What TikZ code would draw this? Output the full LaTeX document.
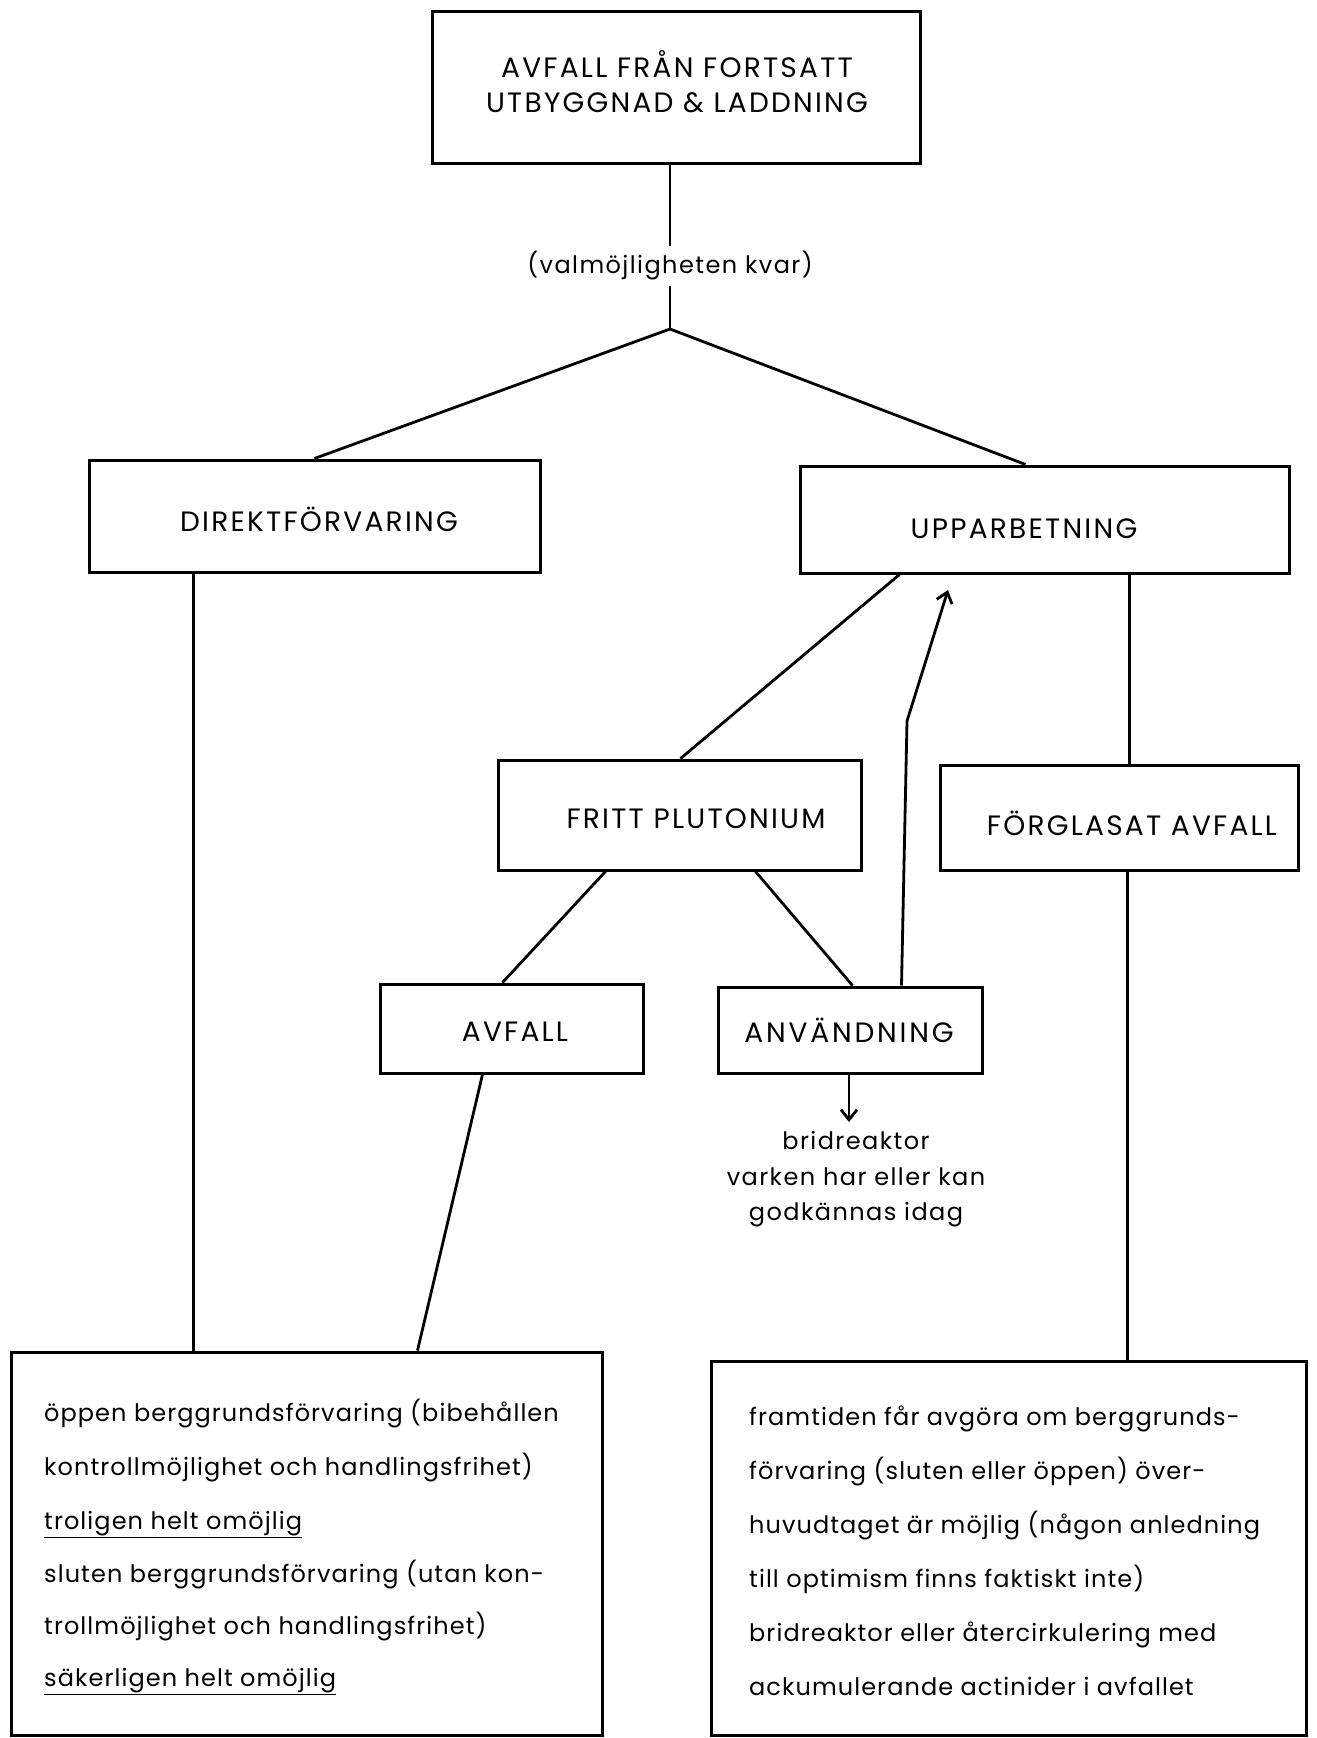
\documentclass[tikz,border=0pt]{standalone}
\usepackage{fontspec}
\setmainfont{Poppins}
\newfontfamily\capsf[LetterSpace=8]{Poppins}
\newfontfamily\lowf[LetterSpace=4.5]{Poppins}
\newfontfamily\smallf[LetterSpace=6]{Poppins}
\newfontfamily\anvf[LetterSpace=10]{Poppins}
\usetikzlibrary{arrows.meta,calc}
\begin{document}
\begin{tikzpicture}[x=1pt,y=-1pt,
  box/.style={draw, line width=3pt, inner sep=0pt},
  conn/.style={line width=2.8pt},
  tip/.style={-{Straight Barb[length=10pt,width=16pt,line width=2.8pt]}},
  lbl/.style={font=\capsf\fontsize{28}{32}\selectfont, inner sep=0pt},
  small/.style={font=\smallf\fontsize{24}{28}\selectfont, inner sep=0pt},
  body/.style={font=\lowf\fontsize{24}{28}\selectfont, inner sep=0pt, anchor=base west}]
\useasboundingbox (0,0) rectangle (1317,1738);
\fill[white] (0,0) rectangle (1317,1738);

% boxes
\node[box, minimum width=488pt, minimum height=152pt] (top)    at (676,87) {};
\node[box, minimum width=451pt, minimum height=112pt] (direkt) at (314.5,516) {};
\node[box, minimum width=489pt, minimum height=107pt] (upp)    at (1044.5,519.5) {};
\node[box, minimum width=363pt, minimum height=110pt] (fritt)  at (679.5,815) {};
\node[box, minimum width=358pt, minimum height=105pt] (forgl)  at (1119,817.5) {};
\node[box, minimum width=263pt, minimum height=89pt]  (avfall) at (511.5,1028.5) {};
\node[box, minimum width=264pt, minimum height=86pt]  (anv)    at (850,1030) {};
\node[box, minimum width=591pt, minimum height=383pt] (botL)   at (306.5,1543.5) {};
\node[box, minimum width=595pt, minimum height=374pt] (botR)   at (1008.5,1548) {};

% box texts
\node[lbl] (topt1) at (677,64)  {AVFALL FRÅN FORTSATT};
\node[lbl] (topt2) at (677,103) {UTBYGGNAD \& LADDNING};
\node[lbl] (direktt) at (319,519) {DIREKTFÖRVARING};
\node[lbl] (uppt) at (1024,529) {UPPARBETNING};
\node[lbl] (frittt) at (696,819) {FRITT PLUTONIUM};
\node[lbl] (forglt) at (1132,823) {FÖRGLASAT AVFALL};
\node[lbl] (avfallt) at (515,1032) {AVFALL};
\node[lbl, font=\anvf\fontsize{28}{32}\selectfont] (anvt) at (849,1030) {ANVÄNDNING};

\node[small, inner sep=5pt] (valm) at (670,266) {(valmöjligheten kvar)};

\node[small] (brid1) at (856,1140) {bridreaktor};
\node[small] (brid2) at (856,1177) {varken har eller kan};
\node[small] (brid3) at (856,1215) {godkännas idag};

% bottom left text
\node[body] (l1) at (44,1421) {öppen berggrundsförvaring (bibehållen};
\node[body] (l2) at (44,1475) {kontrollmöjlighet och handlingsfrihet)};
\node[body] (l3) at (44,1529) {\underline{troligen helt omöjlig}};
\node[body] (l4) at (44,1582) {sluten berggrundsförvaring (utan kon-};
\node[body] (l5) at (44,1634) {trollmöjlighet och handlingsfrihet)};
\node[body] (l6) at (44,1686) {\underline{säkerligen helt omöjlig}};

% bottom right text
\node[body] (r1) at (749,1425) {framtiden får avgöra om berggrunds-};
\node[body] (r2) at (749,1479) {förvaring (sluten eller öppen) över-};
\node[body] (r3) at (749,1533) {huvudtaget är möjlig (någon anledning};
\node[body] (r4) at (749,1587) {till optimism finns faktiskt inte)};
\node[body] (r5) at (749,1641) {bridreaktor eller återcirkulering med};
\node[body] (r6) at (749,1695) {ackumulerande actinider i avfallet};

% connectors
\coordinate (junc) at (670,329);
\coordinate (bend) at (907,721);
\coordinate (uptip) at (948,590);
\coordinate (downtip) at (849,1122);

\draw[conn] (valm.north |- top.south) -- (valm.north);
\draw[conn] (valm.south) -- (junc);
\draw[conn] (junc) -- (direkt.north);
\draw[conn] (junc) -- ([xshift=-19pt]upp.north);
\draw[conn] ([xshift=106pt]direkt.south west) -- ([xshift=106pt]direkt.south west |- botL.north);
\draw[conn] ([xshift=-161pt]upp.south east) -- ([xshift=-161pt]upp.south east |- forgl.north);
\draw[conn] ([xshift=-172pt]forgl.south east) -- ([xshift=-172pt]forgl.south east |- botR.north);
\draw[conn] ([xshift=101pt]upp.south west) -- ([xshift=184pt]fritt.north west);
\draw[conn] ([xshift=109pt]fritt.south west) -- ([xshift=124pt]avfall.north west);
\draw[conn] ([xshift=259pt]fritt.south west) -- ([xshift=136pt]anv.north west);
\draw[conn] ([xshift=104pt]avfall.south west) -- ([xshift=408pt]botL.north west);
\draw[conn, tip] ([xshift=185pt]anv.north west) -- (bend) -- (uptip);
\draw[conn, tip] (downtip |- anv.south) -- (downtip);
\end{tikzpicture}
\end{document}
